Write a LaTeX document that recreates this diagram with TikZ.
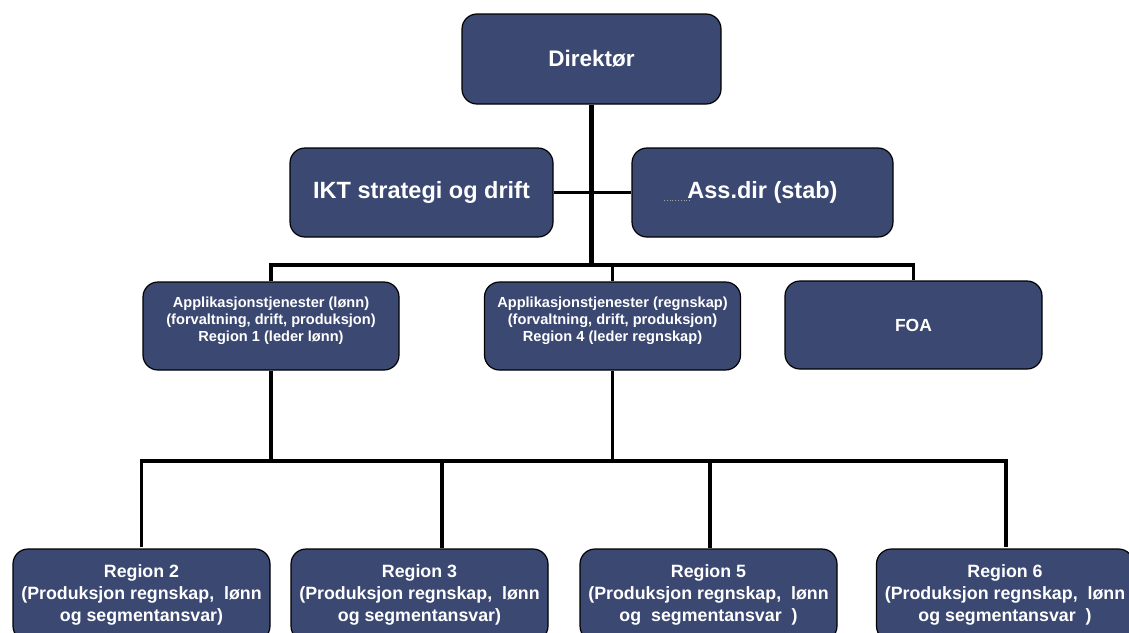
\documentclass[tikz,border=0pt]{standalone}
\usepackage{fontspec}
\setmainfont{Liberation Sans}
\definecolor{boxblue}{RGB}{59,73,114}
\begin{document}
\begin{tikzpicture}[x=1pt,y=-1pt,
  box/.style={draw=black, line width=1.2pt, fill=boxblue, rounded corners=15pt,
    text=white, align=center, inner sep=0pt, minimum width=257pt, minimum height=89pt},
  bigtext/.style={font=\bfseries\fontsize{23.5}{28}\selectfont},
  apptext/.style={font=\bfseries\fontsize{14.6}{17}\selectfont},
  regtext/.style={font=\bfseries\fontsize{17.8}{22}\selectfont},
  conn/.style={line width=3.5pt, black, line join=miter},
  thickconn/.style={line width=4.5pt, black}]
\useasboundingbox (0,0) rectangle (1129,632);
\clip (0,0) rectangle (1129,632);

% top
\node[box, minimum width=259pt, minimum height=90pt, font=\bfseries\fontsize{22.5}{27}\selectfont] (dir) at (591.5,59) {Direktør};
% staff row
\node[box, minimum width=263pt, bigtext] (ikt) at (421.5,192.5) {IKT strategi og drift};
\node[box, minimum width=261pt, bigtext] (ass) at (762.5,192.5) {Ass.dir (stab)};
% middle row
\node[box, minimum width=256pt, minimum height=88pt, apptext] (appl) at (271,326) {};
\node[apptext, text=white, align=center, inner sep=0pt] (appltxt) at (271,321)
  {Applikasjonstjenester (lønn)\\(forvaltning, drift, produksjon)\\Region 1 (leder lønn)};
\node[box, minimum width=256pt, minimum height=88pt, apptext] (appr) at (612.5,326) {};
\node[apptext, text=white, align=center, inner sep=0pt] (apprtxt) at (612.5,321)
  {Applikasjonstjenester (regnskap)\\(forvaltning, drift, produksjon)\\Region 4 (leder regnskap)};
\node[box, minimum width=257pt, minimum height=88pt, font=\bfseries\fontsize{17.5}{21}\selectfont] (foa) at (913.5,325) {FOA};
% bottom row
\node[box, minimum height=92pt, regtext] (r2) at (141.5,595)
  {Region 2\\(Produksjon regnskap,\ \ lønn\\og segmentansvar)};
\node[box, minimum height=92pt, regtext] (r3) at (419.5,595)
  {Region 3\\(Produksjon regnskap,\ \ lønn\\og segmentansvar)};
\node[box, minimum height=92pt, regtext] (r5) at (708.5,595)
  {Region 5\\(Produksjon regnskap,\ \ lønn\\og\ \ segmentansvar\ \ )};
\node[box, minimum height=92pt, regtext] (r6) at (1005,595)
  {Region 6\\(Produksjon regnskap,\ \ lønn\\og segmentansvar\ \ )};

% small dotted artefact in Ass.dir box
\draw[gray!70, line width=0.8pt, dotted] (664,200) -- (690,200);

% bus levels
\coordinate (top) at (0,265);
\coordinate (bot) at (0,461);

% connectors
\draw[thickconn] (dir.south) -- (dir.south |- top);
\draw[conn] (ikt.east) -- (ass.west);
\draw[conn] (appl.north) -- (appl.north |- top) -- (foa.north |- top) -- (foa.north);
\draw[conn] (appr.north) -- (appr.north |- top);

\draw[conn] ([yshift=1pt]r2.north) -- (r2.north |- bot) -- ([xshift=1pt]r6.north |- bot) -- ([xshift=1pt,yshift=1pt]r6.north);
\draw[conn] (appl.south) -- (appl.south |- bot);
\draw[conn] (appr.south) -- (appr.south |- bot);
\draw[conn] ([xshift=22.5pt]r3.north) -- ([xshift=22.5pt]r3.north |- bot);
\draw[conn] ([xshift=1.5pt]r5.north) -- ([xshift=1.5pt]r5.north |- bot);
\end{tikzpicture}
\end{document}
